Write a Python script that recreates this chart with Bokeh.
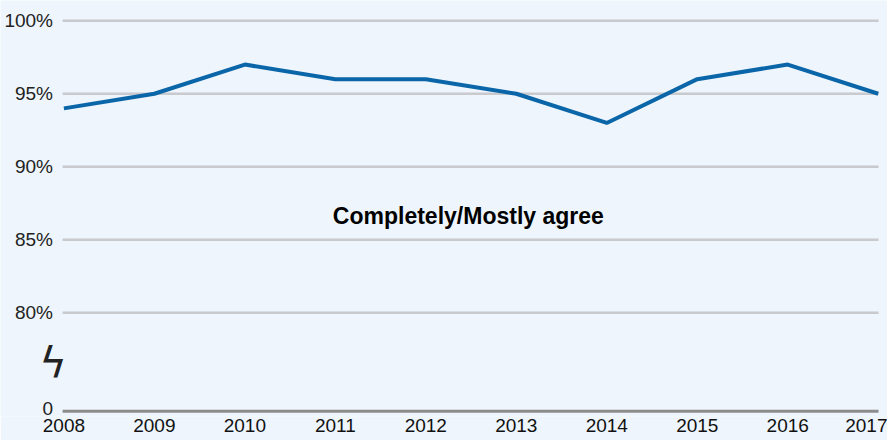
from bokeh.plotting import figure
from bokeh.models import Range1d, FixedTicker
from bokeh.core.properties import value
from bokeh.embed import file_html
from bokeh.resources import INLINE

years = [2008, 2009, 2010, 2011, 2012, 2013, 2014, 2015, 2016, 2017]
agree = [94, 95, 97, 96, 96, 95, 93, 96, 97, 95]
y_ticks = [80, 85, 90, 95, 100]
y_tick_labels = ["80%", "85%", "90%", "95%", "100%"]
series_label = "Completely/Mostly agree"

ZERO_POS = 73.243     # where the "0" of the broken axis sits
BREAK_POS = 76.5      # axis-break mark
BG = "#eef5fc"
FONT = "Liberation Sans"

X0, X1 = years[0], years[-1]
PX_YEAR = 90.48                     # pixels per year in the frame
X_START = X0 - 63.4 / PX_YEAR
LAB_X = X0 - 10.9 / PX_YEAR         # right edge of y labels
GRID_X0 = X0 - 1.3 / PX_YEAR
GRID_X1 = X1 + 0.3 / PX_YEAR

p = figure(width=887, height=440, output_backend="svg", toolbar_location=None,
           x_range=Range1d(X_START, X_START + 887 / PX_YEAR),
           y_range=Range1d(72.886, 101.39),
           y_axis_location=None,
           min_border_left=0, min_border_right=0, min_border_top=0, min_border_bottom=24,
           background_fill_color=BG, border_fill_color=BG, outline_line_color=None)
p.grid.visible = False

# grid lines and the bottom axis line
p.segment(x0=[GRID_X0] * len(y_ticks), y0=y_ticks, x1=[GRID_X1] * len(y_ticks), y1=y_ticks,
          line_color="#c8cacd", line_width=2.5)
p.segment(x0=[GRID_X0], y0=[ZERO_POS], x1=[GRID_X1], y1=[ZERO_POS],
          line_color="#8c8c8c", line_width=3)

# data line
p.line(years, agree, line_color="#0a66a8", line_width=4)

# y labels
p.text(x=[LAB_X] * len(y_ticks), y=y_ticks, text=y_tick_labels, text_align="right",
       text_baseline="middle", text_font=value(FONT), text_font_size="19px",
       text_color="#222222")
p.text(x=[LAB_X], y=[ZERO_POS + 0.2], text=["0"], text_align="right",
       text_baseline="middle", text_font=value(FONT), text_font_size="19px",
       text_color="#222222")
# axis break mark
p.text(x=[LAB_X], y=[BREAK_POS], text=["ϟ"], text_align="center",
       text_baseline="middle", text_font=value("DejaVu Sans"), text_font_size="42px",
       text_color="#222222")

# series label
p.text(x=[(X0 + X1) / 2 - 0.03], y=[86.59], text=[series_label], text_align="center",
       text_baseline="middle", text_font=value(FONT), text_font_style="bold",
       text_font_size="23px", text_color="#000000")

xa = p.xaxis[0]
xa.ticker = FixedTicker(ticks=years)
xa.axis_line_color = None
xa.major_tick_line_color = None
xa.minor_tick_line_color = None
xa.major_tick_out = 0
xa.major_tick_in = 0
xa.minor_tick_out = 0
xa.major_label_standoff = 2
xa.major_label_text_font = FONT
xa.major_label_text_font_size = "19px"
xa.major_label_text_color = "#111111"

open("out.html", "w").write(file_html(p, INLINE))
